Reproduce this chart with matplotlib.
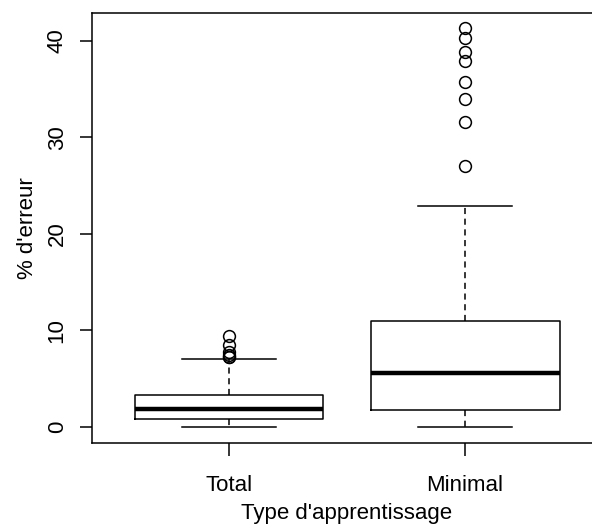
import matplotlib
matplotlib.use("Agg")
import matplotlib.pyplot as plt

# Data
categories = ["Total", "Minimal"]
whisker_low = [0.0, 0.0]
q1 = [0.83, 1.8]
median = [1.9, 5.55]
q3 = [3.3, 10.95]
whisker_high = [7.0, 22.9]
outliers_total = [9.4, 8.5, 7.8, 7.5, 7.3, 7.2]
outliers_minimal = [41.3, 40.3, 38.8, 37.9, 35.7, 34.0, 31.6, 27.0]
y_ticks = [0, 10, 20, 30, 40]
x_label = "Type d'apprentissage"
y_label = "% d'erreur"

plt.rcParams['font.family'] = ['Liberation Sans', 'DejaVu Sans']

fig = plt.figure(figsize=(5.92, 5.24), dpi=100)
W, H = 592, 524
left, right, top, bottom = 92, 602, 13, 443
ax = fig.add_axes([left / W, (H - bottom) / H, (right - left) / W, (bottom - top) / H])

fliers = [outliers_total, outliers_minimal]
stats = []
for i, name in enumerate(categories):
    stats.append(dict(label=name, whislo=whisker_low[i], q1=q1[i], med=median[i],
                      q3=q3[i], whishi=whisker_high[i], fliers=fliers[i]))

ax.bxp(stats, positions=[1, 2], widths=0.8, patch_artist=False,
       boxprops=dict(color='black', linewidth=1.1),
       medianprops=dict(color='black', linewidth=3.2, solid_capstyle='butt'),
       whiskerprops=dict(color='black', linewidth=1.1, linestyle=(0, (4, 3))),
       capprops=dict(color='black', linewidth=1.1),
       flierprops=dict(marker='o', markerfacecolor='none', markeredgecolor='black',
                       markersize=8.5, markeredgewidth=1.1, linestyle='none'),
       capwidths=0.4)

ax.set_xlim(0.42, 2.58)
ax.set_ylim(-1.65, 42.85)
ax.set_yticks(y_ticks)
ax.set_yticklabels([str(v) for v in y_ticks], rotation=90, va='center')
ax.set_xticks([1, 2])
ax.set_xticklabels(categories)

for s in ax.spines.values():
    s.set_linewidth(1.1)
ax.tick_params(axis='both', direction='out', length=9, width=1.1, labelsize=16, colors='black')
ax.tick_params(axis='x', pad=14)
ax.tick_params(axis='y', pad=8.5)

ax.set_xlabel(x_label, fontsize=16, labelpad=5)
ax.set_ylabel(y_label, fontsize=16, labelpad=6)

fig.savefig("out.png", dpi=100)
